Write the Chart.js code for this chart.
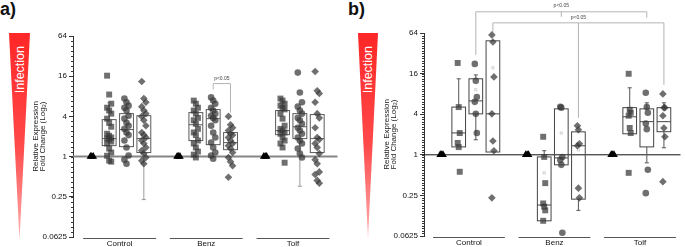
<!DOCTYPE html>
<html>
<head>
<meta charset="utf-8">
<script src="https://cdn.jsdelivr.net/npm/chart.js@4.4.1/dist/chart.umd.min.js"></script>
<style>
  body { margin: 0; width: 685px; height: 247px; position: relative; overflow: hidden; background: #fff;
         font-family: "Liberation Sans", Arial, sans-serif; }
  canvas { position: absolute; top: 0; }
  #chartA { left: 0; }
  #chartB { left: 343px; }
  .tag { position: absolute; top: 0; font: bold 18px/18px "Liberation Sans", Arial, sans-serif; color: #111; }
  .wedge { position: absolute; top: 33px; clip-path: polygon(0 0, 100% 0, 50% 100%);
           background: linear-gradient(#ff2626, #ff4a4a 55%, #ffb0b0); }
  .infection { position: absolute; top: 46px; writing-mode: vertical-rl; transform: rotate(180deg);
               color: #fff; font: 12.5px/14px "Liberation Sans", Arial, sans-serif; }
</style>
</head>
<body>
<div class="tag" style="left:0">a)</div>
<div class="wedge" style="left:9px;width:21px;height:207px"></div>
<div class="infection" style="left:13px">Infection</div>
<div class="tag" style="left:348px">b)</div>
<div class="wedge" style="left:358px;width:20px;height:205px"></div>
<div class="infection" style="left:361px">Infection</div>
<canvas id="chartA" width="342" height="247"></canvas>
<canvas id="chartB" width="342" height="247"></canvas>
<script>
// groups on the x axis, 5 slots apart: calibrator, squares, circles, diamonds
const groups = ['Control', 'Benz', 'Tolf'];
const groupStart = [0, 5, 10];
const calibrator = [1, 1, 1];
const yMajor = [0.0625, 0.25, 1, 4, 16, 64];

// panel a - fold changes per group [Control, Benz, Tolf]
const aSquares = [
  [16.3, 8.5, 6.2, 5.4, 4.9, 4.4, 3.7, 3.2, 2.8, 2.2, 2.05, 1.93, 1.87, 1.8, 1.68, 1.57, 1.32, 1.15, 1.03, 0.87, 0.84],
  [6.9, 6.2, 5.4, 4.9, 4.4, 3.8, 3.5, 3.1, 2.6, 2.3, 2.1, 1.74, 1.57, 1.37, 1.19, 1.07, 0.97],
  [7.4, 6.9, 6.2, 5.8, 5.4, 5.1, 4.4, 3.7, 2.9, 2.6, 2.45, 2.3, 2.2, 1.93, 1.74, 1.57, 1.37, 0.81]
];
const aCircles = [
  [7.4, 6.5, 5.8, 5.4, 4.9, 4.1, 3.7, 3.2, 2.9, 2.6, 2.3, 2.1, 1.74, 1.37, 1.04, 0.9, 0.78],
  [7.7, 6.9, 6.2, 5.4, 4.9, 4.4, 4.1, 3.8, 3.5, 2.9, 2.3, 1.93, 1.62, 1.37, 1.15, 1.04, 0.93],
  [18.1, 9.1, 6.5, 5.6, 4.9, 4.4, 3.8, 3.5, 3.1, 2.7, 2.45, 2.2, 1.93, 1.74, 1.57, 1.32, 1.11, 0.97]
];
const aDiamonds = [
  [13.3, 7.4, 6.5, 5.6, 4.9, 4.4, 4.0, 3.5, 2.9, 2.3, 2.1, 1.93, 1.74, 1.57, 1.37, 1.23, 1.11, 0.97, 0.87, 0.78],
  [4.0, 3.0, 2.7, 2.45, 2.2, 2.1, 1.93, 1.74, 1.57, 1.46, 1.32, 1.15, 0.97, 0.84, 0.73, 0.49],
  [18.8, 9.7, 8.8, 6.5, 4.4, 3.8, 2.7, 1.93, 1.8, 1.57, 1.37, 1.11, 0.9, 0.78, 0.59, 0.54, 0.44, 0.4]
];
// box stats [low whisker, q1, median, q3, high whisker]
const aSquareBox = [[null, 1.46, 1.86, 3.58, 6.4], [null, 1.74, 3.0, 4.56, null], [null, 2.13, 2.45, 4.9, null]];
const aCircleBox = [[null, 1.41, 2.54, 4.4, null], [null, 1.51, 3.7, 5.06, null], [0.36, 1.86, 2.8, 4.4, null]];
const aDiamondBox = [[0.227, 1.15, 1.86, 4.1, null], [null, 1.27, 1.62, 2.29, null], [null, 1.15, 1.86, 4.26, null]];

// panel b
const bSquares = [
  [23, 5.1, 2.1, 1.5, 1.3, 0.56],
  [1.85, 0.93, 0.38, 0.19, 0.17, 0.15, 0.105],
  [15.9, 4.65, 4.2, 3.8, 2.5, 2.1, 0.54]
];
const bCircles = [
  [22.3, 12.5, 7.2, 6.1, 4.05, 2.1],
  [5.15, 5.0, 0.93, 0.84, 0.71, 0.07],
  [8.3, 5.1, 4.2, 2.9, 2.4, 0.6, 0.27]
];
const bDiamonds = [
  [60, 47, 14.3, 4.05, 1.6, 1.15, 0.23],
  [2.7, 2.35, 1.46, 1.36, 0.32, 0.23],
  [8.0, 5.0, 5.0, 3.8, 2.5, 1.85, 0.4]
];
const bSquareBox = [[null, 1.31, 2.11, 5.1, 13.4], [null, 0.105, 0.18, 0.93, 1.15], [null, 2.05, 3.66, 5.0, 9.85]];
const bCircleBox = [[1.67, 4.05, 6.3, 13.4, 15.3], [null, 0.71, 0.9, 4.8, null], [0.76, 1.31, 3.1, 4.8, 5.9]];
const bDiamondBox = [[null, 1.1, 4.05, 49, null], [0.15, 0.22, 1.36, 2.19, null], [1.27, 2.2, 3.1, 5.0, 5.9]];
const bSquareMean = [null, 0.54, null];
const bCircleMean = [9.2, 2.1, null];
const bDiamondMean = [19.5, 1.19, null];

const markColor = 'rgba(55,55,55,0.72)';

function toPoints(values, slot, spread) {
  const out = [];
  values.forEach((vals, g) => vals.forEach((v, i) => {
    if (v !== null) out.push({ x: groupStart[g] + slot + ((i % 3) - 1) * spread, y: v });
  }));
  return out;
}

function line(ctx, x1, y1, x2, y2) {
  ctx.beginPath(); ctx.moveTo(x1, y1); ctx.lineTo(x2, y2); ctx.stroke();
}

const decor = {
  id: 'decor',
  beforeDatasetsDraw(chart, args, o) {
    const { ctx, chartArea: a, scales: { x, y } } = chart;
    ctx.save();
    // minor ticks on the log2 axis
    ctx.strokeStyle = '#333'; ctx.lineWidth = 1;
    for (let k = -4; k <= 6 + 1e-9; k += o.minorStep) {
      const py = Math.round(y.getPixelForValue(Math.pow(2, k))) + 0.5;
      line(ctx, a.left - 2, py, a.left, py);
    }
    // reference line at fold change 1
    ctx.strokeStyle = o.refColor; ctx.lineWidth = o.refWidth;
    const y1 = y.getPixelForValue(1);
    line(ctx, a.left, y1, a.right, y1);
    // boxes
    o.boxes.forEach(b => b.stats.forEach((s, g) => {
      const cx = x.getPixelForValue(groupStart[g] + b.slot);
      const hw = x.getPixelForValue(0.4) - x.getPixelForValue(0);
      const cap = x.getPixelForValue(0.12) - x.getPixelForValue(0);
      const [lo, q1, med, q3, hi] = s.map(v => v === null ? null : y.getPixelForValue(v));
      ctx.strokeStyle = o.whiskerColor; ctx.lineWidth = 1;
      if (hi !== null) { line(ctx, cx, q3, cx, hi); line(ctx, cx - cap, hi, cx + cap, hi); }
      if (lo !== null) { line(ctx, cx, q1, cx, lo); line(ctx, cx - cap, lo, cx + cap, lo); }
      ctx.strokeStyle = o.boxColor;
      ctx.strokeRect(cx - hw, q3, hw * 2, q1 - q3);
      line(ctx, cx - hw, med, cx + hw, med);
    }));
    // group underlines
    ctx.strokeStyle = '#555'; ctx.lineWidth = 1;
    groupStart.forEach(g => {
      line(ctx, x.getPixelForValue(g - 0.5), a.bottom + 1.5, x.getPixelForValue(g + 3.7), a.bottom + 1.5);
    });
    // significance brackets
    ctx.strokeStyle = '#b4b4b4'; ctx.lineWidth = 1;
    ctx.fillStyle = '#444'; ctx.font = '5px "Liberation Sans", Arial, sans-serif';
    ctx.textAlign = 'center'; ctx.textBaseline = 'middle';
    o.brackets.forEach(br => {
      const top = y.getPixelForValue(br.top);
      const xs = br.drops.map(d => x.getPixelForValue(d[0]));
      line(ctx, xs[0], top, xs[xs.length - 1], top);
      br.drops.forEach((d, i) => line(ctx, xs[i], top, xs[i], y.getPixelForValue(d[1])));
      ctx.fillText(br.label, x.getPixelForValue(br.labelAt[0]), y.getPixelForValue(br.labelAt[1]));
    });
    ctx.restore();
  }
};

function makeChart(id, cfg) {
  const datasets = [
    { data: toPoints(cfg.calibrator, 0, 0.08), pointStyle: 'triangle', pointRadius: 4.5,
      backgroundColor: '#000', borderColor: '#000', borderWidth: 0 },
    { data: toPoints(cfg.squares, 1, cfg.spread), pointStyle: 'rect', pointRadius: 4.2,
      backgroundColor: markColor, borderWidth: 0 },
    { data: toPoints(cfg.circles, 2, cfg.spread), pointStyle: 'circle', pointRadius: 3.3,
      backgroundColor: markColor, borderWidth: 0 },
    { data: toPoints(cfg.diamonds, 3, cfg.spread), pointStyle: 'rectRot', pointRadius: 3.8,
      backgroundColor: markColor, borderWidth: 0 }
  ];
  if (cfg.means) {
    const m = [];
    cfg.means.forEach((arr, s) => arr.forEach((v, g) => { if (v !== null) m.push({ x: groupStart[g] + s + 1, y: v }); }));
    datasets.push({ data: m, pointStyle: 'rect', pointRadius: 1.6, backgroundColor: 'rgba(255,255,255,0)',
      borderColor: '#c8c8c8', borderWidth: 0.8 });
  }
  datasets.forEach(d => { d.clip = false; d.pointHoverRadius = d.pointRadius; });

  return new Chart(document.getElementById(id), {
    type: 'scatter',
    data: { datasets },
    options: {
      responsive: false,
      animation: false,
      layout: { padding: { left: cfg.padLeft, top: cfg.padTop, right: cfg.padRight, bottom: 0 } },
      plugins: {
        legend: { display: false },
        tooltip: { enabled: false },
        decor: cfg.decor
      },
      scales: {
        x: {
          type: 'linear', min: cfg.xMin, max: cfg.xMax,
          grid: { display: false, drawTicks: false },
          border: { display: false },
          afterBuildTicks: s => { s.ticks = groupStart.map(g => ({ value: g + 1.6 })); },
          afterFit: s => { s.height = cfg.xHeight; },
          ticks: { autoSkip: false, maxRotation: 0, padding: 2, color: '#111',
                   font: { family: '"Liberation Sans", Arial, sans-serif', size: 8 },
                   callback: (v, i) => groups[i] }
        },
        y: {
          type: 'logarithmic', min: 0.0625, max: 64,
          grid: { drawOnChartArea: false, drawTicks: true, tickLength: 4, color: '#333' },
          border: { display: true, color: '#333', width: 1 },
          afterBuildTicks: s => { s.ticks = yMajor.map(v => ({ value: v })); },
          afterFit: s => { s.width = 40; },
          ticks: { autoSkip: false, padding: 2, color: '#111',
                   font: { family: '"Liberation Sans", Arial, sans-serif', size: 8 },
                   callback: v => String(v) },
          title: { display: true, text: ['Relative Expression', 'Fold Change (Log\u2082)'], color: '#222',
                   padding: { top: 0, bottom: 0 },
                   font: { family: '"Liberation Sans", Arial, sans-serif', size: 8, lineHeight: 0.82 } }
        }
      }
    },
    plugins: [decor]
  });
}

makeChart('chartA', {
  calibrator: [calibrator, calibrator, calibrator],
  squares: aSquares, circles: aCircles, diamonds: aDiamonds, spread: 0.12,
  padLeft: 33, padTop: 36, padRight: 2, xMin: -1.086, xMax: 14.17, xHeight: 10,
  decor: {
    minorStep: 0.25, refColor: '#868686', refWidth: 2, boxColor: '#5a5a5a', whiskerColor: '#9a9a9a',
    boxes: [{ slot: 1, stats: aSquareBox }, { slot: 2, stats: aCircleBox }, { slot: 3, stats: aDiamondBox }],
    brackets: [{ top: 12.4, drops: [[7, 10.1], [8, 4.56]], label: 'p<0.05', labelAt: [7.5, 14.7] }]
  }
});

makeChart('chartB', {
  calibrator: [calibrator, calibrator, calibrator],
  squares: bSquares, circles: bCircles, diamonds: bDiamonds, spread: 0.06,
  means: [bSquareMean, bCircleMean, bDiamondMean],
  padLeft: 41, padTop: 33, padRight: 0, xMin: -1.03, xMax: 13.97, xHeight: 11,
  decor: {
    minorStep: 0.125, refColor: '#111', refWidth: 1, boxColor: '#444', whiskerColor: '#555',
    boxes: [{ slot: 1, stats: bSquareBox }, { slot: 2, stats: bCircleBox }, { slot: 3, stats: bDiamondBox }],
    brackets: [
      { top: 132, drops: [[2, 30.4], [7, 111], [12, 108]], label: 'p<0.05', labelAt: [7, 162] },
      { top: 90.5, drops: [[3, 66.7], [8, 3.54], [13, 10.9]], label: 'p<0.05', labelAt: [8, 108] }
    ]
  }
});
</script>
</body>
</html>
